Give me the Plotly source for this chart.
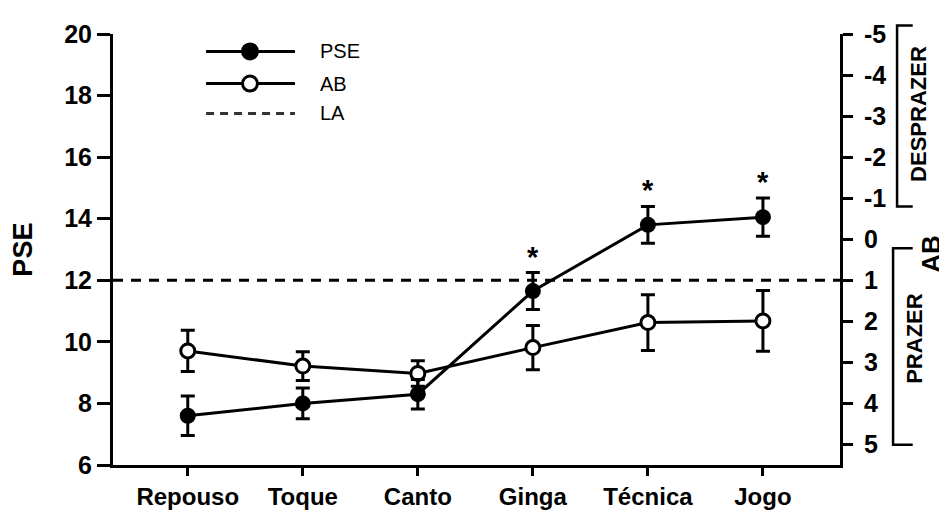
import plotly.graph_objects as go

categories = ["Repouso", "Toque", "Canto", "Ginga", "Técnica", "Jogo"]
pse_mean = [7.6, 8.0, 8.3, 11.65, 13.8, 14.05]
pse_sd = [0.64, 0.5, 0.48, 0.6, 0.6, 0.62]
ab_mean = [2.72, 3.09, 3.27, 2.64, 2.03, 1.99]
ab_sd = [0.5, 0.35, 0.31, 0.54, 0.68, 0.74]
la_level = 12
significant = [False, False, False, True, True, True]

pse_ticks = [6, 8, 10, 12, 14, 16, 18, 20]
ab_ticks = [-5, -4, -3, -2, -1, 0, 1, 2, 3, 4, 5]
ab_ticktext = [str(v) for v in ab_ticks]

x_range = [-0.65, 5.67]
x_idx = list(range(len(categories)))

FONT = "Liberation Sans, Arial, sans-serif"
BLACK = "#000000"

fig = go.Figure()

# AB on main (right, reversed) axis
fig.add_trace(go.Scatter(
    x=x_idx, y=ab_mean, yaxis="y", mode="lines+markers", name="AB",
    line=dict(color=BLACK, width=3),
    marker=dict(symbol="circle", size=14, color="white", line=dict(color=BLACK, width=3)),
    error_y=dict(type="data", array=ab_sd, visible=True, color=BLACK, thickness=3, width=7),
    showlegend=False, cliponaxis=False,
))

# LA dashed line
fig.add_trace(go.Scatter(
    x=x_range, y=[la_level, la_level], yaxis="y2", mode="lines", name="LA",
    line=dict(color=BLACK, width=3, dash="10px,8px"), showlegend=False,
))

# PSE on overlay left axis
fig.add_trace(go.Scatter(
    x=x_idx, y=pse_mean, yaxis="y2", mode="lines+markers", name="PSE",
    line=dict(color=BLACK, width=3),
    marker=dict(symbol="circle", size=16, color=BLACK, line=dict(width=0)),
    error_y=dict(type="data", array=pse_sd, visible=True, color=BLACK, thickness=3, width=7),
    showlegend=False, cliponaxis=False,
))

annotations = []
for i, s in enumerate(significant):
    if s:
        annotations.append(dict(
            x=i, y=pse_mean[i] + pse_sd[i], xref="x", yref="y2", text="*",
            showarrow=False, yanchor="bottom", yshift=-2,
            font=dict(family=FONT, size=29, color=BLACK, weight="bold"),
        ))

# axis titles
annotations.append(dict(x=-0.125, y=0.5, xref="paper", yref="paper", text="PSE",
                        textangle=-90, showarrow=False, xanchor="center", yanchor="middle",
                        font=dict(family=FONT, size=27, color=BLACK, weight="bold")))
annotations.append(dict(x=1.125, y=0.49, xref="paper", yref="paper", text="AB",
                        textangle=-90, showarrow=False, xanchor="center", yanchor="middle",
                        font=dict(family=FONT, size=26, color=BLACK, weight="bold")))
annotations.append(dict(x=1.108, y=0.8135, xref="paper", yref="paper", text="DESPRAZER",
                        textangle=-90, showarrow=False, xanchor="center", yanchor="middle",
                        font=dict(family=FONT, size=22, color=BLACK, weight="bold")))
annotations.append(dict(x=1.1025, y=0.294, xref="paper", yref="paper", text="PRAZER",
                        textangle=-90, showarrow=False, xanchor="center", yanchor="middle",
                        font=dict(family=FONT, size=22, color=BLACK, weight="bold")))

shapes = []
# brackets
def bracket(xv, xh, y0, y1):
    return dict(type="path", xref="paper", yref="paper",
                path=f"M {xh},{y0} L {xv},{y0} L {xv},{y1} L {xh},{y1}",
                line=dict(color=BLACK, width=2.5))
shapes.append(bracket(1.0785, 1.1, 1.02, 0.6))
shapes.append(bracket(1.073, 1.1, 0.503, 0.047))

# custom legend
leg_x0, leg_x1, leg_xm, leg_tx = 0.128, 0.2503, 0.1884, 0.282
leg_rows = [("PSE", 0.9596), ("AB", 0.885), ("LA", 0.8157)]
for name, yy in leg_rows:
    if name == "LA":
        shapes.append(dict(type="line", xref="paper", yref="paper", x0=leg_x0, x1=leg_x1,
                           y0=yy, y1=yy, line=dict(color="#333333", width=3, dash="8px,6px")))
    else:
        shapes.append(dict(type="line", xref="paper", yref="paper", x0=leg_x0, x1=leg_x1,
                           y0=yy, y1=yy, line=dict(color=BLACK, width=3)))
        fill = BLACK if name == "PSE" else "white"
        shapes.append(dict(type="circle", xref="paper", yref="paper", xsizemode="pixel",
                           ysizemode="pixel", xanchor=leg_xm, yanchor=yy, x0=-7.5, x1=7.5,
                           y0=-7.5, y1=7.5, fillcolor=fill, line=dict(color=BLACK, width=3)))
    annotations.append(dict(x=leg_tx, y=yy, xref="paper", yref="paper", text=name,
                            showarrow=False, xanchor="left", yanchor="middle",
                            font=dict(family=FONT, size=20, color=BLACK)))

fig.update_layout(
    width=939, height=514,
    margin=dict(l=105, r=107, t=23, b=46),
    paper_bgcolor="white", plot_bgcolor="white",
    showlegend=False,
    xaxis=dict(range=x_range, tickvals=x_idx, ticktext=categories,
               showgrid=False, zeroline=False, showline=True, linecolor=BLACK, linewidth=3,
               ticks="outside", ticklen=8, tickwidth=3, tickcolor=BLACK,
               tickfont=dict(family=FONT, size=24, color=BLACK, weight="bold")),
    yaxis=dict(side="right", range=[5.5, -5], tickvals=ab_ticks, ticktext=ab_ticktext,
               showgrid=False, zeroline=False, showline=True, linecolor=BLACK, linewidth=3,
               ticks="outside", ticklen=10, tickwidth=3, tickcolor=BLACK,
               ticklabelstandoff=6,
               tickfont=dict(family=FONT, size=25, color=BLACK, weight="bold")),
    yaxis2=dict(side="left", overlaying="y", anchor="x", range=[6, 20], tickvals=pse_ticks,
                showgrid=False, zeroline=False, showline=True, linecolor=BLACK, linewidth=3,
                ticks="outside", ticklen=13, tickwidth=3, tickcolor=BLACK,
                tickfont=dict(family=FONT, size=25, color=BLACK, weight="bold")),
    annotations=annotations,
    shapes=shapes,
)

fig.write_html("out.html")
